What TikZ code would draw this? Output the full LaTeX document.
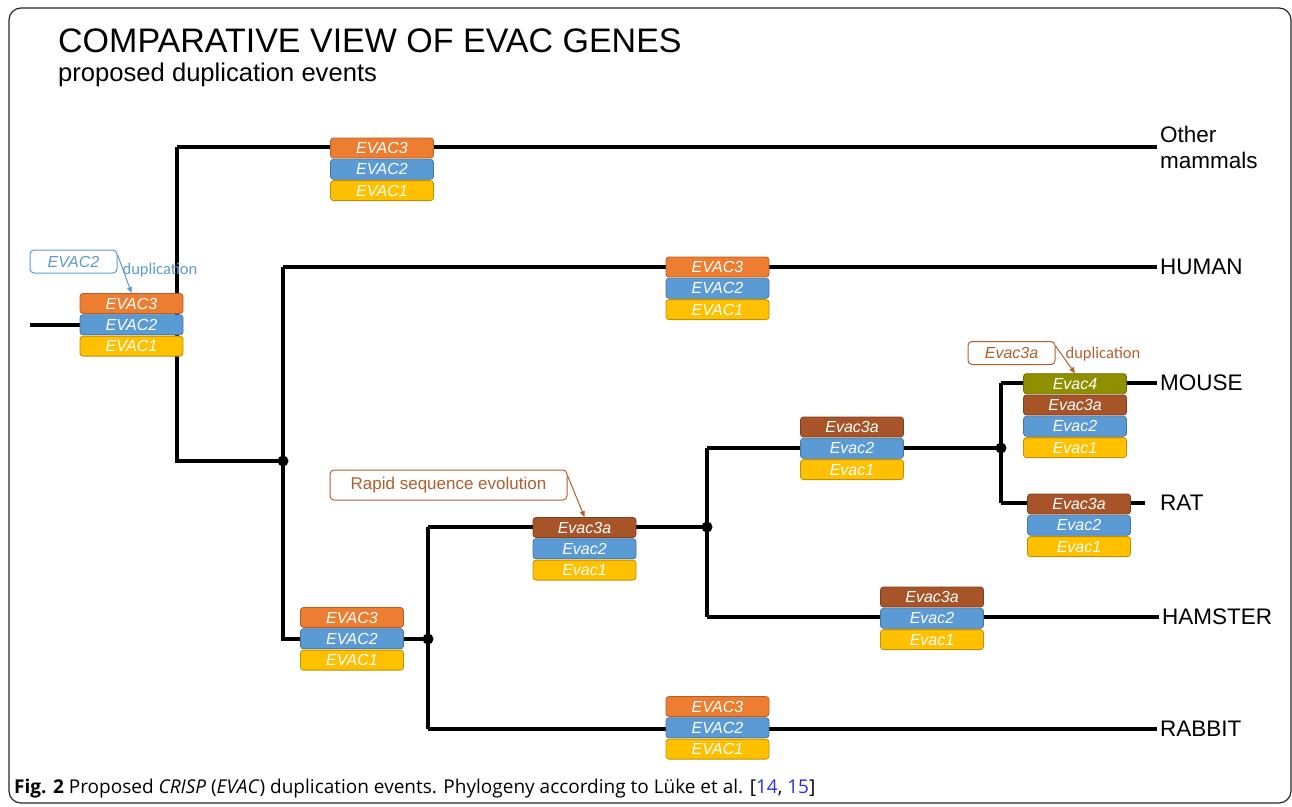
\documentclass[tikz,border=0pt]{standalone}
\usepackage{fontspec}
\setmainfont{Liberation Sans}
\newfontfamily\dupfont{Carlito}
\newfontfamily\capfont{Open Sans}
\usetikzlibrary{positioning,arrows.meta,backgrounds}
\definecolor{evac3}{HTML}{ED7D31}
\definecolor{evac3a}{HTML}{A65428}
\definecolor{evac2}{HTML}{5B9BD5}
\definecolor{evac1}{HTML}{FFC000}
\definecolor{evac4}{HTML}{8F8F00}
\definecolor{noteblue}{HTML}{5B9BD5}
\definecolor{notebrown}{HTML}{B0602E}
\definecolor{reflink}{HTML}{2F2FE0}

\begin{document}
\begin{tikzpicture}[x=1pt,y=-1pt,
  gene/.style={draw=#1!75!black,fill=#1,rounded corners=3pt,line width=.8pt,
    minimum width=103pt,minimum height=20pt,inner sep=0pt,text=white,
    font=\fontsize{16}{16}\selectfont\itshape},
  branch/.style={line width=3.3pt},
  taxon/.style={anchor=west,inner sep=3pt,font=\fontsize{22.5}{26}\selectfont},
  note/.style={draw=#1,text=#1,fill=white,rounded corners=4pt,line width=1pt,inner sep=0pt},
  pointer/.style={draw=#1,line width=1pt,-{Triangle[length=6pt,width=5pt]}},
  node distance=0.5pt]
\useasboundingbox (0,0) rectangle (1292,806);
\draw[line width=1.2pt,rounded corners=12pt,black!85] (9,8) rectangle (1291,803);

% title
\node[anchor=base west,inner sep=0pt,font=\fontsize{34}{34}\selectfont] (title) at (58,52) {COMPARATIVE VIEW OF EVAC GENES};
\node[anchor=base west,inner sep=0pt,font=\fontsize{25.6}{26}\selectfont] (subtitle) at (58,81) {proposed duplication events};

% gene stacks
\foreach \s/\x/\y/\c/\ga/\gb/\gc in {
  oth/382/148/evac3/EVAC3/EVAC2/EVAC1, root/131.5/303.5/evac3/EVAC3/EVAC2/EVAC1,
  hum/717.5/267/evac3/EVAC3/EVAC2/EVAC1, lag/352/617.5/evac3/EVAC3/EVAC2/EVAC1,
  rab/717.5/706.5/evac3/EVAC3/EVAC2/EVAC1, rod/584.5/527.5/evac3a/Evac3a/Evac2/Evac1,
  mr/852/427/evac3a/Evac3a/Evac2/Evac1, ham/932/597/evac3a/Evac3a/Evac2/Evac1,
  mou/1075/405/evac3a/Evac3a/Evac2/Evac1, rat/1079/504/evac3a/Evac3a/Evac2/Evac1}{
  \node[gene=\c] (\s3) at (\x,\y) {\ga};
  \node[gene=evac2,below=of \s3] (\s2) {\gb};
  \node[gene=evac1,below=of \s2] (\s1) {\gc};
}
\node[gene=evac4,above=of mou3] (mou4) {Evac4};

% taxa
\node[taxon,align=left] (other) at (1157,147) {Other\\mammals};
\node[taxon] (human) at (1157,267) {HUMAN};
\node[taxon] (mouse) at (1157,383) {MOUSE};
\node[taxon] (rat) at (1157,503) {RAT};
\node[taxon] (hamster) at (1159,617) {HAMSTER};
\node[taxon] (rabbit) at (1157,729) {RABBIT};

% tree
\coordinate (r0) at (30,325);
\coordinate (jA) at (177,147); \coordinate (jB) at (177,461);
\coordinate (d1) at (283,461); \coordinate (jC) at (283,267); \coordinate (jD) at (283,639);
\coordinate (d2) at (428,639); \coordinate (jE) at (428,527); \coordinate (jF) at (428,729);
\coordinate (d3) at (707,527); \coordinate (jG) at (707,448); \coordinate (jH) at (707,617);
\coordinate (d4) at (1001,448); \coordinate (jI) at (1001,383); \coordinate (jJ) at (1001,503);
\begin{pgfonlayer}{background}
\draw[branch] (r0) -- (r0 -| jA) (jA) -- (jB) -- (d1) (jC) -- (jD) -- (d2)
  (jE) -- (jF) (jE) -- (d3) (jG) -- (jH) (jG) -- (d4) (jI) -- (jJ);
\draw[branch,shorten >=12pt] (jA) -- (other.west) (jC) -- (human.west) (jF) -- (rabbit.west)
  (jH) -- (hamster.west) (jI) -- (mouse.west) (jJ) -- (rat.west);
\end{pgfonlayer}
\foreach \d in {d1,d2,d3,d4} \fill (\d) circle (5.5pt);

% callouts
\node[note=noteblue,minimum width=87pt,minimum height=23pt,font=\fontsize{16}{16}\selectfont\itshape] (dupA) at (73.5,261.5) {EVAC2};
\node[text=noteblue,inner sep=0pt,font=\dupfont\fontsize{16.5}{16.5}\selectfont] (dupAtxt) at (160,270) {duplication};
\draw[pointer=noteblue] ([yshift=-5pt]dupA.north east) -- (root3.north);

\node[note=notebrown,minimum width=87pt,minimum height=23pt,font=\fontsize{16}{16}\selectfont\itshape] (dupB) at (1011.5,353) {Evac3a};
\node[text=notebrown,inner sep=0pt,font=\dupfont\fontsize{16.5}{16.5}\selectfont] (dupBtxt) at (1103,354) {duplication};
\draw[pointer=notebrown] ([yshift=-5pt]dupB.north east) -- (mou4.north);

\node[note=notebrown,minimum width=237pt,minimum height=30pt,font=\fontsize{17}{17}\selectfont] (rapid) at (448.5,485) {Rapid sequence evolution};
\draw[pointer=notebrown] ([yshift=-6pt]rapid.north east) -- (rod3.north);

% caption
\node[anchor=base west,inner sep=0pt,font=\capfont\fontsize{19}{19}\selectfont] (caption) at (14,793)
  {\textbf{Fig. 2} Proposed \textit{CRISP} (\textit{EVAC}) duplication events. Phylogeny according to Lüke et al. [\textcolor{reflink}{14}, \textcolor{reflink}{15}]};
\end{tikzpicture}
\end{document}
